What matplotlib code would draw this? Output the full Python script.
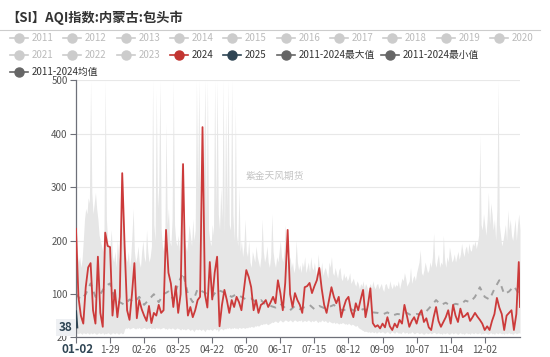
import numpy as np
import matplotlib
matplotlib.use('Agg')
import matplotlib.pyplot as plt
from matplotlib.lines import Line2D
import matplotlib.transforms as mtransforms

plt.rcParams['font.family'] = ['Noto Sans CJK SC', 'DejaVu Sans']

# 数据 (x 为一年中的天数, 0 = 01-01)
tick_days = [0, 28, 56, 84, 112, 140, 168, 196, 224, 252, 280, 308, 336]
tick_labels = ['', '1-29', '02-26', '03-25', '04-22', '05-20', '06-17',
               '07-15', '08-12', '09-09', '10-07', '11-04', '12-02']

# 2024年 (每2天一个点, 最后一个为第365天)
days_2024 = list(range(0, 365, 2)) + [365]
aqi_2024 = [222, 95, 60, 45, 113, 150, 158, 70, 45, 170,
            65, 39, 215, 190, 188, 60, 108, 57, 95, 326,
            188, 70, 52, 100, 158, 55, 89, 72, 60, 50,
            78, 46, 65, 60, 80, 65, 70, 220, 140, 120,
            76, 115, 65, 100, 343, 120, 60, 76, 57, 70,
            89, 95, 412, 100, 75, 160, 90, 140, 170, 40,
            80, 108, 89, 65, 89, 76, 95, 85, 70, 108,
            145, 132, 113, 70, 89, 65, 80, 83, 89, 76,
            85, 95, 83, 126, 102, 70, 121, 220, 100, 76,
            102, 89, 80, 65, 113, 115, 121, 102, 115, 126,
            149, 110, 80, 65, 89, 113, 95, 83, 95, 57,
            75, 89, 95, 70, 57, 83, 70, 90, 108, 57,
            80, 111, 46, 39, 42, 36, 45, 38, 57, 40,
            33, 45, 38, 52, 45, 80, 60, 39, 50, 57,
            45, 62, 70, 48, 55, 38, 33, 57, 76, 50,
            39, 48, 57, 70, 45, 80, 60, 48, 73, 57,
            60, 65, 50, 57, 65, 58, 52, 45, 33, 40,
            33, 50, 63, 93, 75, 63, 33, 60, 65, 70,
            33, 63, 160, 76]

# 2025年
days_2025 = [0, 1]
aqi_2025 = [68, 38]

# 2011-2024均值 (每4天)
days_mean = list(range(0, 365, 4))
aqi_mean = [100, 90, 100, 120, 95, 100, 115, 120, 90, 85,
            80, 90, 85, 95, 80, 90, 100, 85, 100, 105,
            90, 120, 140, 100, 85, 110, 105, 100, 95, 108,
            105, 100, 95, 100, 95, 90, 92, 85, 89, 80,
            78, 75, 82, 74, 70, 78, 72, 76, 80, 72,
            78, 74, 76, 80, 72, 70, 74, 70, 68, 72,
            70, 66, 65, 62, 66, 60, 63, 62, 65, 60,
            63, 62, 68, 78, 89, 80, 84, 78, 82, 80,
            88, 85, 95, 113, 95, 90, 110, 126, 100, 105,
            115, 101]

# 2011-2024最大值 / 最小值 (逐日, 0-365)
days_band = list(range(0, 366))
aqi_max = [230, 180, 160, 170, 150, 165, 200, 240, 260, 250,
           280, 270, 500, 290, 250, 270, 290, 260, 240, 210,
           200, 190, 180, 220, 500, 240, 200, 180, 190, 220,
           170, 160, 180, 150, 200, 170, 160, 230, 330, 250,
           190, 170, 160, 180, 150, 170, 210, 260, 180, 160,
           170, 190, 160, 150, 180, 200, 170, 160, 220, 180,
           160, 170, 190, 500, 230, 200, 480, 260, 300, 500,
           220, 190, 180, 200, 420, 230, 260, 200, 190, 240,
           500, 230, 200, 190, 210, 180, 350, 280, 220, 200,
           190, 180, 200, 230, 210, 190, 240, 200, 220, 500,
           300, 500, 260, 230, 280, 350, 500, 240, 500, 220,
           200, 190, 230, 210, 500, 260, 500, 250, 220, 300,
           240, 500, 210, 450, 260, 500, 230, 220, 500, 250,
           200, 450, 210, 190, 300, 180, 200, 170, 190, 240,
           180, 170, 200, 160, 150, 180, 170, 160, 190, 170,
           160, 150, 170, 240, 180, 160, 170, 190, 160, 150,
           170, 250, 180, 160, 150, 170, 160, 180, 200, 170,
           160, 180, 230, 170, 150, 160, 170, 150, 160, 140,
           150, 200, 160, 145, 155, 140, 160, 150, 170, 140,
           150, 160, 140, 170, 150, 145, 160, 140, 135, 175,
           150, 140, 160, 135, 145, 150, 140, 130, 160, 150,
           170, 140, 135, 150, 140, 130, 145, 150, 130, 125,
           140, 130, 135, 125, 130, 140, 120, 125, 130, 120,
           115, 125, 120, 110, 120, 115, 125, 110, 120, 115,
           105, 115, 120, 110, 125, 115, 110, 118, 120, 110,
           115, 120, 110, 105, 118, 120, 112, 110, 125, 115,
           110, 120, 113, 118, 115, 125, 110, 120, 130, 125,
           140, 130, 115, 120, 125, 150, 120, 130, 135, 125,
           140, 150, 160, 183, 140, 135, 145, 160, 150, 140,
           145, 160, 150, 170, 214, 160, 150, 165, 175, 150,
           160, 155, 210, 165, 150, 170, 160, 188, 175, 160,
           165, 175, 160, 170, 180, 165, 175, 195, 180, 170,
           185, 190, 175, 195, 183, 180, 195, 190, 200, 185,
           195, 210, 397, 230, 220, 250, 230, 210, 240, 290,
           230, 270, 250, 220, 240, 200, 260, 500, 230, 210,
           190, 200, 214, 230, 200, 257, 220, 240, 210, 200,
           220, 240, 200, 230, 250, 220]
aqi_min = [28, 27, 26, 28, 27, 25, 28, 27, 26, 28,
           27, 25, 28, 26, 27, 28, 26, 25, 27, 28,
           26, 27, 28, 25, 27, 26, 28, 27, 25, 26,
           28, 27, 26, 28, 27, 25, 27, 28, 26, 27,
           35, 37, 36, 38, 35, 36, 37, 38, 36, 35,
           37, 36, 38, 35, 36, 37, 38, 36, 35, 37,
           36, 38, 35, 37, 36, 35, 38, 36, 37, 35,
           36, 37, 38, 35, 36, 34, 37, 36, 35, 37,
           36, 34, 35, 37, 36, 35, 33, 36, 34, 35,
           33, 35, 36, 34, 32, 35, 33, 30, 34, 35,
           33, 35, 34, 32, 35, 33, 30, 34, 35, 33,
           35, 34, 32, 35, 36, 33, 35, 30, 34, 36,
           35, 33, 36, 35, 37, 36, 38, 35, 37, 36,
           38, 36, 37, 35, 38, 37, 36, 38, 37, 36,
           38, 37, 39, 38, 40, 39, 38, 41, 40, 42,
           40, 42, 44, 43, 45, 44, 46, 44, 43, 45,
           46, 48, 47, 49, 50, 48, 47, 50, 52, 49,
           48, 50, 52, 51, 49, 50, 52, 50, 48, 51,
           52, 50, 49, 51, 50, 52, 48, 50, 51, 49,
           50, 52, 50, 48, 51, 49, 50, 52, 49, 47,
           50, 48, 52, 50, 49, 51, 48, 47, 50, 48,
           47, 46, 48, 45, 47, 46, 44, 46, 45, 47,
           46, 44, 45, 43, 46, 44, 42, 44, 43, 41,
           40, 42, 38, 36, 35, 33, 32, 30, 31, 30,
           29, 30, 28, 30, 29, 28, 30, 27, 29, 30,
           28, 29, 30, 28, 27, 29, 30, 28, 26, 29,
           30, 28, 27, 30, 29, 27, 28, 26, 29, 30,
           27, 28, 29, 26, 28, 27, 30, 28, 26, 27,
           29, 28, 26, 27, 28, 26, 25, 27, 28, 26,
           27, 28, 26, 27, 29, 28, 26, 27, 28, 26,
           27, 25, 28, 26, 27, 28, 26, 25, 27, 28,
           26, 27, 28, 26, 25, 27, 28, 26, 27, 25,
           27, 28, 26, 27, 25, 28, 27, 26, 28, 27,
           26, 27, 28, 25, 27, 26, 28, 27, 26, 25,
           27, 28, 26, 27, 25, 28, 27, 26, 28, 27,
           26, 27, 25, 28, 26, 27, 28, 26, 27, 25,
           27, 28, 26, 27, 28, 27]

W, H = 550, 357
fig = plt.figure(figsize=(W / 100, H / 100), dpi=100)
ax = fig.add_axes([76 / W, (H - 337) / H, 444 / W, 257 / H])

# 最大/最小值区间
ax.fill_between(days_band, aqi_min, aqi_max, color='#e6e6e6', lw=0, zorder=1)

# 均值 (虚线)
ax.plot(days_mean, aqi_mean, color='#a0a0a0', lw=1.4, ls=(0, (3, 3)), zorder=2)

# 2024 / 2025
ax.plot(days_2024, aqi_2024, color='#cc3a3a', lw=1.3, zorder=3)
ax.plot(days_2025, aqi_2025, color='#2f4554', lw=1.5, zorder=4)

ax.set_xlim(0, 365)
ax.set_ylim(20, 500)
ax.set_yticks([20, 100, 200, 300, 400, 500])
ax.set_xticks(tick_days)
ax.set_xticklabels(tick_labels)
ax.grid(axis='y', color='#e8e8e8', lw=0.8, zorder=0)
ax.set_axisbelow(True)
for s in ['top', 'right']:
    ax.spines[s].set_visible(False)
for s in ['left', 'bottom']:
    ax.spines[s].set_color('#6e7079')
    ax.spines[s].set_linewidth(0.9)
ax.tick_params(axis='both', colors='#6e7079', labelcolor='#555555',
               labelsize=7, length=4, width=0.8, pad=2)

# 指示器标签
ax.text(1, -0.025, '01-02',
        transform=mtransforms.blended_transform_factory(ax.transData, ax.transAxes),
        ha='center', va='top', fontsize=8.5, fontweight='bold', color='#2f4554')
ax.text(-0.008, 38, '38',
        transform=mtransforms.blended_transform_factory(ax.transAxes, ax.transData),
        ha='right', va='center', fontsize=8.5, fontweight='bold', color='#2f4554',
        bbox=dict(boxstyle='square,pad=0.2', fc='#eef0f3', ec='none'), zorder=5)

# 水印
fig.text(275 / W, 1 - 176 / H, '紫金天风期货', fontsize=7, color='#c4c4c4',
         ha='center', va='center')

# 标题
fig.text(6 / W, 1 - 18 / H, '【SI】AQI指数:内蒙古:包头市', fontsize=9.5,
         fontweight='bold', color='#333333', ha='left', va='center')
fig.add_artist(Line2D([0, 540 / W], [1 - 30 / H] * 2, color='#cccccc', lw=0.8))

# 图例
legend_items = [
    ('2011', '#cccccc', '#bbbbbb', 19, 38), ('2012', '#cccccc', '#bbbbbb', 72, 38),
    ('2013', '#cccccc', '#bbbbbb', 126, 38), ('2014', '#cccccc', '#bbbbbb', 179, 38),
    ('2015', '#cccccc', '#bbbbbb', 232, 38), ('2016', '#cccccc', '#bbbbbb', 286, 38),
    ('2017', '#cccccc', '#bbbbbb', 339, 38), ('2018', '#cccccc', '#bbbbbb', 392, 38),
    ('2019', '#cccccc', '#bbbbbb', 446, 38), ('2020', '#cccccc', '#bbbbbb', 499, 38),
    ('2021', '#cccccc', '#bbbbbb', 19, 55), ('2022', '#cccccc', '#bbbbbb', 72, 55),
    ('2023', '#cccccc', '#bbbbbb', 126, 55), ('2024', '#c23531', '#333333', 179, 55),
    ('2025', '#2f4554', '#333333', 232, 55), ('2011-2024最大值', '#666666', '#333333', 286, 55),
    ('2011-2024最小值', '#666666', '#333333', 390, 55),
    ('2011-2024均值', '#666666', '#333333', 19, 72),
]
for label, c, tc, px, py in legend_items:
    fy = 1 - py / H
    fig.add_artist(Line2D([(px - 9) / W, (px + 9) / W], [fy, fy], color=c, lw=1.2))
    fig.add_artist(Line2D([px / W], [fy], color=c, marker='o', markersize=6.5, lw=0))
    fig.text((px + 13) / W, fy, label, fontsize=7, color=tc, ha='left', va='center')

fig.savefig('out.png', dpi=100)
